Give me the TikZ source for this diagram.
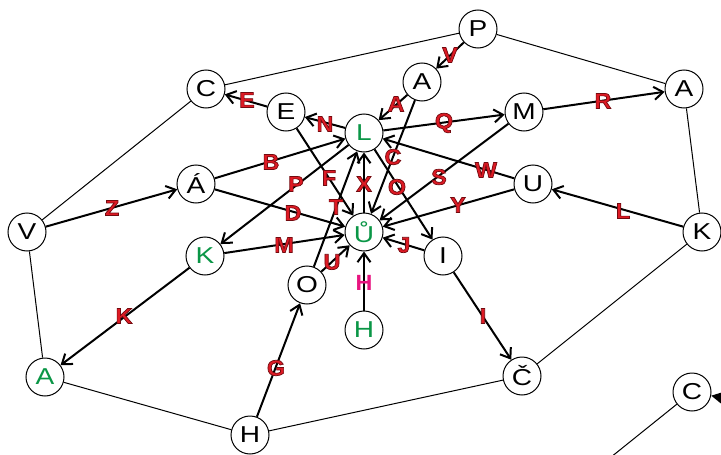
\documentclass[tikz,border=0pt]{standalone}
\usepackage{fontspec}
\setmainfont{Liberation Sans}
\newfontfamily\stopfont[FakeStretch=1.22]{Liberation Sans}
\newfontfamily\tagfont[FakeStretch=1.06]{Liberation Sans}
\usetikzlibrary{arrows.meta}

\definecolor{leaf}{RGB}{10,150,70}
\definecolor{tagred}{RGB}{222,26,36}
\definecolor{tagpink}{RGB}{232,20,128}

% red tag text with a dark rim
\newcommand\rimmed[1]{\special{pdf:literal direct 2 Tr 0.7 w 0.45 0.04 0.06 RG}#1\special{pdf:literal direct 0 Tr}}

\tikzset{every picture/.style={line width=0.5pt}}
\tikzset{
  stop/.style={circle,draw,fill=white,line width=1pt,minimum size=38pt,inner sep=0pt,
    font=\stopfont\fontsize{23}{23}\selectfont},
  green stop/.style={stop,text=leaf},
  ring/.style={line width=1pt},
  route/.style={line width=2pt,-{Straight Barb[length=9pt,width=13pt,line width=2pt]}},
  tag/.style={inner sep=0pt,text=tagred,font=\tagfont\fontsize{22}{22}\selectfont\bfseries},
}

\begin{document}
\begin{tikzpicture}[x=1pt,y=1pt,yscale=-1,xscale=1]
\useasboundingbox (0,0) rectangle (721,455);
\clip (0,0) rectangle (721,455);

% Stops
\node [stop] (P) at (478,29) {P};
\node [stop] (A1) at (422,82) {A};
\node [stop] (C1) at (206,89) {C};
\node [stop] (E) at (286,112) {E};
\node [green stop] (L) at (364,133) {L};
\node [stop] (M) at (524,112) {M};
\node [stop] (A2) at (684,89) {A};
\node [stop] (Aa) at (196,184) {Á};
\node [stop] (U) at (533,184) {U};
\node [stop] (V) at (27,232) {V};
\node [green stop] (K1) at (205,256) {K};
\node [green stop] (Uu) at (364,232) {Ů};
\node [stop] (I) at (443,256) {I};
\node [stop] (K2) at (702,232) {K};
\node [stop] (O) at (307,285) {O};
\node [green stop] (H1) at (364,330) {H};
\node [green stop] (A3) at (45,377) {A};
\node [stop] (Cc) at (522,376) {Č};
\node [stop] (H2) at (250,435) {H};
\node [stop] (C2) at (692,392) {C};
\coordinate (far) at (760,405);
\coordinate (low) at (580,482);

% Outer ring
\draw [ring] (P) -- (C1);
\draw [ring] (P) -- (A2);
\draw [ring] (C1) -- (V);
\draw [ring] (V) -- (A3);
\draw [ring] (A3) -- (H2);
\draw [ring] (H2) -- (Cc);
\draw [ring] (Cc) -- (K2);
\draw [ring] (K2) -- (A2);
\draw [ring] (C2) -- (low);

% Routes
\draw [route] (P) -- (A1);
\draw [route] (A1) -- (L);
\draw [route] (A1) -- (Uu);
\draw [route] (E) -- (C1);
\draw [route] (L) -- (E);
\draw [route] (L) -- (M);
\draw [route] (M) -- (A2);
\draw [route] (U) -- (L);
\draw [route] (M) -- (Uu);
\draw [route] (U) -- (Uu);
\draw [route] (K2) -- (U);
\draw [route] (Aa) -- (L);
\draw [route] (Aa) -- (Uu);
\draw [route] (L) -- (K1);
\draw [route] (E) -- (Uu);
\draw [route] (O) -- (L);
\draw [route] (Uu) -- (L);
\draw [route] (L) -- (I);
\draw [route] (I) -- (Uu);
\draw [route] (I) -- (Cc);
\draw [route] (K1) -- (Uu);
\draw [route] (O) -- (Uu);
\draw [route] (H1) -- (Uu);
\draw [route] (H2) -- (O);
\draw [route] (K1) -- (A3);
\draw [route] (V) -- (Aa);
\draw [line width=2pt,-{Triangle[length=11pt,width=11pt]}] (far) -- (C2);

% Route tags
\node [tag] (tV) at (450,55) {\rimmed{V}};
\node [tag] (tA) at (396,104) {\rimmed{A}};
\node [tag] (tE) at (247,100) {\rimmed{E}};
\node [tag] (tN) at (325,124) {\rimmed{N}};
\node [tag] (tQ) at (444,123) {\rimmed{Q}};
\node [tag] (tR) at (603,101) {\rimmed{R}};
\node [tag] (tC) at (393,157) {\rimmed{C}};
\node [tag] (tB) at (271,162) {\rimmed{B}};
\node [tag] (tW) at (486,170) {\rimmed{W}};
\node [tag] (tS) at (439,177) {\rimmed{S}};
\node [tag] (tY) at (458,205) {\rimmed{Y}};
\node [tag] (tP) at (296,184) {\rimmed{P}};
\node [tag] (tF) at (329,178) {\rimmed{F}};
\node [tag] (tX) at (364,184) {\rimmed{X}};
\node [tag] (tO) at (397,187) {\rimmed{O}};
\node [tag] (tD) at (293,213) {\rimmed{D}};
\node [tag] (tT) at (336,207) {\rimmed{T}};
\node [tag] (tM) at (284,245) {\rimmed{M}};
\node [tag] (tJ) at (404,245) {\rimmed{J}};
\node [tag] (tU) at (332,262) {\rimmed{U}};
\node [tag,text=tagpink] (tH) at (364,283) {H};
\node [tag] (tK) at (124,316) {\rimmed{K}};
\node [tag] (tG) at (276,368) {\rimmed{G}};
\node [tag] (tI) at (483,316) {\rimmed{I}};
\node [tag] (tL) at (623,211) {\rimmed{L}};
\node [tag] (tZ) at (112,208) {\rimmed{Z}};
\end{tikzpicture}
\end{document}
